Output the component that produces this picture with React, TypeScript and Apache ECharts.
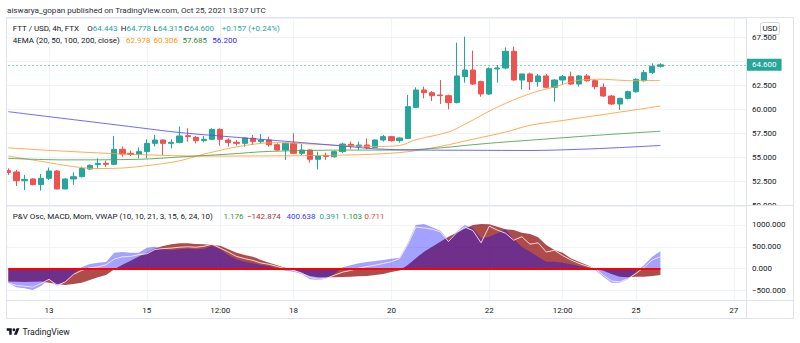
import React, { useEffect, useRef } from 'react';
import * as echarts from 'echarts';

const FONT = 'Roboto, "Noto Sans", sans-serif';
const TEXT = '#131722';
const UP = '#26a69a';
const DOWN = '#ef5350';

// ---------- time ----------
const FIRST_CANDLE_UTC = Date.UTC(2021, 9, 12, 4, 0);
const BAR_HOURS = 4;
const CATEGORY_COUNT = 91;
const TICK_KEYS = ['10-13 00:00', '10-15 00:00', '10-16 12:00', '10-18 00:00', '10-20 00:00', '10-22 00:00', '10-23 12:00', '10-25 00:00', '10-27 00:00'];
const TICK_LABELS = ['13', '15', '12:00', '18', '20', '22', '12:00', '25', '27'];

// ---------- candles (FTT/USD 4h) ----------
const OPEN = [53.58, 53.44, 52.53, 52.71, 52.12, 52.78, 53.54, 51.67, 52.71, 52.95,
  53.75, 54.2, 54.34, 54.24, 55.8, 55.38, 55.31, 55.56, 56.42, 56.77,
  56.42, 56.5, 57.22, 57.05, 56.7, 56.84, 57.88, 56.77, 56.53, 56.42,
  56.95, 56.6, 56.77, 56.28, 55.73, 56.42, 55.38, 55.73, 54.76, 55.13,
  55.03, 55.56, 56.32, 56.1, 56.25, 56.0, 56.77, 57.12, 56.7, 56.94,
  60.17, 61.98, 61.7, 61.46, 61.39, 60.66, 63.37, 64.06, 62.85, 61.56,
  64.17, 64.27, 66.01, 63.02, 63.65, 62.85, 63.44, 62.26, 63.02, 63.37,
  62.6, 63.44, 62.95, 62.26, 61.35, 60.52, 61.11, 61.8, 62.95, 63.79, 64.443];
const CLOSE = [53.4, 52.53, 52.67, 52.12, 52.78, 53.54, 51.67, 52.71, 52.95, 53.8,
  54.13, 54.34, 54.24, 55.8, 55.31, 55.27, 55.56, 56.42, 56.77, 56.42,
  56.53, 57.19, 57.12, 56.7, 56.84, 57.88, 56.84, 56.5, 56.42, 56.98,
  56.6, 56.77, 56.28, 55.73, 56.42, 55.38, 55.73, 54.76, 55.1, 55.07,
  55.56, 56.35, 56.15, 56.25, 56.0, 56.77, 57.12, 56.7, 56.98, 60.24,
  61.98, 61.7, 61.39, 61.39, 60.66, 63.44, 64.06, 62.6, 61.56, 64.2,
  64.27, 66.01, 63.02, 63.65, 62.85, 63.44, 62.26, 63.02, 63.37, 62.6,
  63.44, 62.95, 62.33, 61.35, 60.52, 61.11, 61.8, 63.09, 63.79, 64.443, 64.6];
const LOW = [53.13, 51.98, 51.56, 52.05, 51.5, 52.6, 51.63, 51.63, 52.1, 52.88,
  53.65, 53.75, 53.99, 54.17, 55.03, 55.1, 54.86, 54.86, 56.1, 55.2,
  55.9, 56.42, 56.6, 56.42, 56.53, 56.77, 56.18, 56.08, 56.2, 56.08,
  56.25, 56.42, 56.08, 55.66, 54.69, 55.31, 55.2, 54.41, 53.7, 54.69,
  54.93, 55.38, 55.8, 55.73, 55.8, 55.97, 56.6, 56.6, 56.49, 56.87,
  60.1, 61.11, 60.83, 60.52, 59.96, 60.59, 62.74, 62.5, 61.28, 61.46,
  62.74, 64.13, 62.95, 62.05, 61.98, 62.33, 62.15, 60.76, 62.5, 62.5,
  62.33, 62.85, 62.05, 61.28, 60.42, 59.9, 61.0, 61.7, 62.85, 63.65, 64.315];
const HIGH = [53.82, 53.65, 53.13, 52.78, 53.23, 53.9, 53.65, 52.78, 53.4, 54.0,
  54.24, 54.86, 54.62, 57.19, 56.1, 55.66, 56.0, 56.84, 57.3, 56.84,
  56.84, 58.16, 57.99, 57.19, 57.19, 57.99, 57.99, 56.95, 56.77, 57.05,
  57.3, 57.4, 57.12, 56.42, 56.5, 57.47, 56.35, 55.8, 55.56, 55.45,
  55.66, 56.5, 56.6, 56.6, 56.94, 56.84, 57.29, 57.19, 57.05, 61.46,
  62.26, 62.33, 61.87, 63.02, 61.49, 66.91, 67.53, 66.08, 62.95, 64.34,
  64.58, 66.42, 66.49, 63.65, 63.79, 63.65, 63.65, 63.09, 63.54, 63.89,
  63.54, 63.65, 63.09, 62.67, 61.46, 61.18, 61.91, 63.2, 64.06, 64.76, 64.778];

// ---------- 4EMA (read points: [candle index, value]) ----------
const EMA20 = [[0, 55.1], [4, 54.55], [8, 54.0], [11, 53.8], [14, 53.85], [17, 54.1], [21, 54.6], [24, 55.3], [29, 56.2], [33, 56.5], [37, 56.35], [41, 56.2], [45, 56.1], [48, 56.2], [50, 56.8], [54, 57.6], [56, 58.4], [60, 60.2], [64, 61.6], [67, 62.3], [70, 63.0], [73, 63.1], [76, 62.95], [80, 62.978]];
const EMA50 = [[0, 55.95], [7, 55.6], [16, 55.25], [24, 55.1], [33, 55.12], [41, 55.2], [45, 55.3], [49, 55.55], [53, 56.1], [57, 56.85], [61, 57.6], [64, 58.3], [68, 58.8], [72, 59.3], [76, 59.8], [80, 60.306]];
const EMA100 = [[0, 54.86], [7, 54.7], [16, 54.76], [21, 55.0], [27, 55.3], [32, 55.58], [42, 55.72], [48, 55.72], [53, 55.95], [56, 56.2], [60, 56.5], [64, 56.75], [72, 57.25], [80, 57.685]];
const EMA200 = [[0, 59.72], [5, 59.2], [11, 58.58], [16, 58.06], [21, 57.55], [28, 57.05], [36, 56.5], [41, 56.15], [45, 55.85], [50, 55.73], [57, 55.7], [64, 55.68], [70, 55.8], [75, 55.98], [80, 56.2]];

// ---------- P&V Osc, MACD, Mom, VWAP ----------
const OSC_BLUE = [-319, -426, -449, -487, -395, -243, -395, -296, -121, 31,
  107, 138, 153, 366, 381, 366, 366, 480, 503, 442,
  427, 442, 457, 442, 457, 518, 442, 313, 214, 160,
  123, 84, 62, 1, -45, -68, -121, -243, -258, -228,
  -121, 31, 77, 122, 153, 176, 199, 229, 250, 580,
  998, 1020, 944, 868, 655, 845, 998, 921, 693, 731,
  807, 898, 670, 503, 389, 275, 160, 160, 138, 100,
  62, 24, -30, -182, -319, -319, -243, -68, 84, 275, 400.638];
const OSC_RED = [-290, -300, -305, -300, -295, -319, -350, -373, -350, -319,
  -258, -197, -144, -14, 90, 180, 280, 360, 460, 518,
  556, 579, 579, 564, 556, 541, 525, 442, 366, 313,
  275, 199, 138, 77, 24, -30, -106, -167, -197, -197,
  -197, -189, -182, -175, -167, -144, -121, -75, -40, 84,
  236, 389, 503, 617, 731, 823, 914, 998, 1020, 1013,
  960, 898, 883, 823, 792, 716, 541, 427, 366, 237,
  160, 84, 0, -45, -121, -182, -197, -182, -182, -167, -142.874];
const OSC_WHITE = [-330, -380, -400, -420, -340, -243, -380, -300, -130, -40,
  20, 40, 90, 220, 270, 280, 320, 340, 440, 460,
  470, 490, 500, 490, 510, 560, 470, 380, 280, 230,
  190, 130, 100, 50, 0, -40, -100, -200, -240, -220,
  -150, -80, -40, 10, 50, 80, 120, 160, 230, 550,
  950, 930, 900, 840, 620, 820, 950, 870, 590, 970,
  880, 810, 650, 730, 560, 590, 380, 420, 300, 200,
  120, 60, 0, -150, -280, -300, -230, -110, 30, 200, 270];
const OSC_OTHER_VALUES = ['1.176', '0.391', '1.103', '0.711'];

// ---------- helpers ----------
const pad = (n: number) => String(n).padStart(2, '0');
const CATEGORIES = Array.from({ length: CATEGORY_COUNT }, (_, i) => {
  const d = new Date(FIRST_CANDLE_UTC + i * BAR_HOURS * 3600e3);
  return `${pad(d.getUTCMonth() + 1)}-${pad(d.getUTCDate())} ${pad(d.getUTCHours())}:00`;
});
const isTick = (_i: number, v: string) => TICK_KEYS.indexOf(v) >= 0;
const tickLabel = (v: string) => {
  const k = TICK_KEYS.indexOf(v);
  return k >= 0 ? TICK_LABELS[k] : '';
};
const fmt = (v: number) => (v < 0 ? '\u2212' : '') + Math.abs(v).toFixed(3);
const last = <T,>(a: T[]) => a[a.length - 1];

const TV_LOGO_PATH = 'M14 22H7V11H0V4h14v18zM28 22h-8l7.5-18h8L28 22z';
try {
  echarts.graphic.registerShape('tvLogo', (echarts.graphic as any).extendPath(TV_LOGO_PATH, {}));
} catch (e) { /* already registered */ }

const txt = (x: number, y: number, text: string, fill: string, size = 8) => ({
  type: 'text', x, y, z: 70, silent: true,
  style: { text, fill, font: `${size}px ${FONT}`, align: 'left', verticalAlign: 'middle' },
});
const pair = (x: number, y: number, label: string, value: string) => ({
  type: 'text', x, y, z: 70, silent: true,
  style: {
    text: `{l|${label}}{v|${value}}`,
    align: 'left', verticalAlign: 'middle', font: `8px ${FONT}`,
    rich: {
      l: { fill: TEXT, fontSize: 8, fontFamily: FONT },
      v: { fill: UP, fontSize: 8, fontFamily: FONT },
    },
  },
});

function buildOption() {
  const n = CLOSE.length;
  const lastClose = CLOSE[n - 1];
  const change = lastClose - CLOSE[n - 2];
  const changePct = (change / CLOSE[n - 2]) * 100;
  const sign = change >= 0 ? '+' : '\u2212';
  const frame = '#e0e3eb';
  const logoScale = 0.36;

  return {
    animation: false,
    backgroundColor: '#ffffff',
    textStyle: { fontFamily: FONT },
    grid: [
      { left: 4.2, right: 54, top: 18, height: 187 },
      { left: 4.2, right: 54, top: 206, height: 94 },
    ],
    xAxis: [0, 1].map((g) => ({
      type: 'category', gridIndex: g, data: CATEGORIES, boundaryGap: true,
      axisLine: { show: false }, axisTick: { show: false },
      axisLabel: g === 1
        ? { show: true, interval: isTick, formatter: tickLabel, fontSize: 8, color: TEXT, margin: 6, fontFamily: FONT }
        : { show: false },
      splitLine: { show: true, interval: isTick, alignWithLabel: true, lineStyle: { color: '#f0f3fa', width: 1 } },
    })),
    yAxis: [
      {
        type: 'value', gridIndex: 0, position: 'right', min: 50, max: 69.48, interval: 2.5,
        axisLine: { show: false }, axisTick: { show: false },
        axisLabel: { fontSize: 8, color: TEXT, margin: 6, fontFamily: FONT, formatter: fmt, showMaxLabel: false },
        splitLine: { lineStyle: { color: '#f0f3fa' } },
      },
      {
        type: 'value', gridIndex: 1, position: 'right', min: -715, max: 1431, splitNumber: 5,
        axisLine: { show: false }, axisTick: { show: false },
        axisLabel: { fontSize: 8, color: TEXT, margin: 6, fontFamily: FONT, formatter: fmt, showMaxLabel: false, showMinLabel: false },
        splitLine: { lineStyle: { color: '#f0f3fa' } },
      },
    ],
    series: [
      {
        type: 'candlestick', xAxisIndex: 0, yAxisIndex: 0,
        data: OPEN.map((o, i) => [o, CLOSE[i], LOW[i], HIGH[i]]),
        barWidth: '70%',
        itemStyle: { color: UP, color0: DOWN, borderColor: UP, borderColor0: DOWN, borderWidth: 1 },
        markLine: {
          silent: true, symbol: ['none', 'none'],
          data: [{ yAxis: lastClose }],
          lineStyle: { color: 'rgba(38,166,154,0.55)', type: [2, 2], width: 1 },
          label: {
            position: 'end', distance: 0, formatter: () => lastClose.toFixed(3),
            backgroundColor: UP, color: '#ffffff', fontSize: 8, fontFamily: FONT,
            lineHeight: 10, padding: [1, 5, 1, 6],
          },
        },
      },
      ...[
        [EMA20, 'rgba(255,160,60,0.85)'],
        [EMA50, 'rgba(255,150,40,0.8)'],
        [EMA100, 'rgba(76,160,76,0.85)'],
        [EMA200, 'rgba(80,80,255,0.85)'],
      ].map(([d, c]) => ({
        type: 'line', xAxisIndex: 0, yAxisIndex: 0, data: d as number[][],
        smooth: 0.35, symbol: 'none', silent: true,
        lineStyle: { width: 1, color: c as string },
      })),
      {
        type: 'line', xAxisIndex: 1, yAxisIndex: 1, data: OSC_RED, symbol: 'none', silent: true,
        lineStyle: { opacity: 0, width: 0 },
        areaStyle: { color: 'rgba(139,0,0,0.7)', opacity: 1 },
      },
      {
        type: 'line', xAxisIndex: 1, yAxisIndex: 1, data: OSC_BLUE, symbol: 'none', silent: true,
        lineStyle: { opacity: 0, width: 0 },
        areaStyle: { color: 'rgba(0,0,255,0.36)', opacity: 1 },
      },
      {
        type: 'line', xAxisIndex: 1, yAxisIndex: 1, data: OSC_WHITE, symbol: 'none', silent: true,
        lineStyle: { width: 1, color: 'rgba(255,230,230,0.9)' },
        markLine: {
          silent: true, symbol: ['none', 'none'], label: { show: false },
          lineStyle: { color: '#ff0000', width: 2, type: 'solid' },
          data: [[{ coord: [0, 0] }, { coord: [n - 1, 0] }]],
        },
      },
    ],
    graphic: [
      { type: 'rect', z: 50, silent: true, shape: { x: 0, y: 17, width: 6.5, height: 302 }, style: { fill: '#ffffff' } },
      { type: 'rect', z: 50, silent: true, shape: { x: 747, y: 205.5, width: 46, height: 8 }, style: { fill: '#ffffff' } },
      { type: 'rect', z: 60, silent: true, shape: { x: 6.5, y: 17.5, width: 787, height: 301 }, style: { fill: 'none', stroke: frame, lineWidth: 1 } },
      { type: 'line', z: 60, silent: true, shape: { x1: 6.5, y1: 205.5, x2: 793.5, y2: 205.5 }, style: { stroke: frame, lineWidth: 1 } },
      { type: 'line', z: 60, silent: true, shape: { x1: 6.5, y1: 300.5, x2: 793.5, y2: 300.5 }, style: { stroke: frame, lineWidth: 1 } },
      { type: 'line', z: 60, silent: true, shape: { x1: 746.5, y1: 17.5, x2: 746.5, y2: 318.5 }, style: { stroke: frame, lineWidth: 1 } },
      // USD box
      { type: 'rect', z: 65, silent: true, shape: { x: 760.5, y: 22.5, width: 19, height: 12, r: 2 }, style: { fill: '#ffffff', stroke: '#d1d4dc', lineWidth: 1 } },
      { type: 'text', z: 70, silent: true, x: 770, y: 28.8, style: { text: 'USD', fill: TEXT, font: `8px ${FONT}`, align: 'center', verticalAlign: 'middle' } },
      // title
      txt(7, 10, 'aiswarya_gopan published on TradingView.com, Oct 25, 2021 13:07 UTC', '#2a2e39', 8.1),
      // legend line 1
      txt(12.7, 28.5, 'FTT / USD, 4h, FTX', TEXT),
      pair(87.3, 28.5, 'O', OPEN[n - 1].toFixed(3)),
      pair(120.7, 28.5, 'H', HIGH[n - 1].toFixed(3)),
      pair(153.6, 28.5, 'L', LOW[n - 1].toFixed(3)),
      pair(184.3, 28.5, 'C', lastClose.toFixed(3)),
      txt(221.7, 28.5, `${sign}${Math.abs(change).toFixed(3)} (${sign}${Math.abs(changePct).toFixed(2)}%)`, UP),
      // legend line 2
      txt(12.7, 40.8, '4EMA (20, 50, 100, 200, close)', TEXT),
      txt(126, 40.8, last(EMA20)[1].toFixed(3), '#ff9800'),
      txt(153.5, 40.8, last(EMA50)[1].toFixed(3), '#ff9800'),
      txt(182.5, 40.8, last(EMA100)[1].toFixed(3), '#2e8b2e'),
      txt(212.3, 40.8, last(EMA200)[1].toFixed(3), '#2929ff'),
      // oscillator legend
      txt(12.7, 216.2, 'P&V Osc, MACD, Mom, VWAP (10, 10, 21, 3, 15, 6, 24, 10)', TEXT),
      txt(223.5, 216.2, OSC_OTHER_VALUES[0], '#1f9d1f'),
      txt(247, 216.2, fmt(last(OSC_RED)), '#a83232'),
      txt(286.5, 216.2, last(OSC_BLUE).toFixed(3), '#3b3bff'),
      txt(319.5, 216.2, OSC_OTHER_VALUES[1], '#22ab94'),
      txt(342, 216.2, OSC_OTHER_VALUES[2], '#1f9d1f'),
      txt(364.5, 216.2, OSC_OTHER_VALUES[3], '#ff3b3b'),
      // TradingView logo
      { type: 'tvLogo', z: 70, silent: true, x: 6.7, y: 328.3 - 4 * logoScale, scaleX: logoScale, scaleY: logoScale, style: { fill: TEXT } },
      { type: 'circle', z: 70, silent: true, shape: { cx: 6.7 + 20 * logoScale, cy: 328.3 + 4 * logoScale, r: 4 * logoScale }, style: { fill: TEXT } },
      { type: 'text', z: 70, silent: true, x: 22.5, y: 331.5, style: { text: 'TradingView', fill: TEXT, font: `8.6px ${FONT}`, align: 'left', verticalAlign: 'middle' } },
    ],
  };
}

export default function App() {
  const ref = useRef<HTMLDivElement>(null);
  useEffect(() => {
    document.body.style.margin = '0';
    const chart = echarts.init(ref.current as HTMLDivElement, undefined, { renderer: 'svg', width: 800, height: 343 });
    chart.setOption(buildOption() as any);
    return () => chart.dispose();
  }, []);
  return <div ref={ref} style={{ position: 'absolute', left: 0, top: 0, width: 800, height: 343, background: '#ffffff' }} />;
}
